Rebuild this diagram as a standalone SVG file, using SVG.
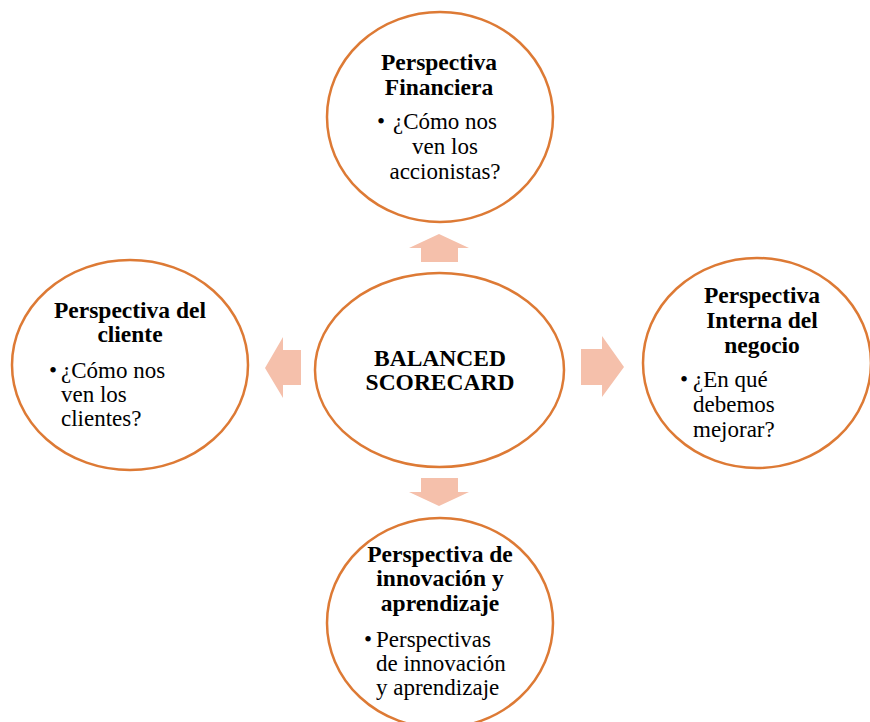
<svg xmlns="http://www.w3.org/2000/svg" width="870" height="722" viewBox="0 0 870 722">
<style>
.c{fill:#fff;stroke:#DD7A35;stroke-width:2.5}
.a{fill:#F5C0AB}
.t{font-family:"Liberation Serif","Times New Roman",serif;font-size:23px;fill:#000}
.b{font-weight:bold;font-size:23.5px}
.m{text-anchor:middle}
</style>
<rect width="870" height="722" fill="#fff"/>
<g id="connectors">
<polygon class="a" points="421,262 421,248 409,248 439,234 469,248 458,248 458,262"/>
<polygon class="a" points="301,350 283,350 283,337 265,368 283,398 283,385 301,385"/>
<polygon class="a" points="581,349 602,349 602,336 624,367 602,397 602,385 581,385"/>
<polygon class="a" points="421,478 458,478 458,492 469,492 439,506 409,492 421,492"/>
</g>
<g id="center">
<ellipse class="c" cx="439.5" cy="370" rx="124.5" ry="97"/>
<text class="t b m" x="440" y="366">BALANCED</text>
<text class="t b m" x="440" y="390">SCORECARD</text>
</g>
<g id="financiera">
<ellipse class="c" cx="440" cy="117" rx="113" ry="105"/>
<text class="t b m" x="439" y="70">Perspectiva</text>
<text class="t b m" x="439" y="95">Financiera</text>
<text class="t" x="377" y="129">•</text>
<text class="t m" x="445" y="129">¿Cómo nos</text>
<text class="t m" x="445" y="154">ven los</text>
<text class="t m" x="445" y="179">accionistas?</text>
</g>
<g id="cliente">
<ellipse class="c" cx="130" cy="365" rx="118" ry="105"/>
<text class="t b m" x="130" y="318">Perspectiva del</text>
<text class="t b m" x="130" y="342">cliente</text>
<text class="t" x="49" y="378">•</text>
<text class="t" x="61" y="378">¿Cómo nos</text>
<text class="t" x="61" y="402">ven los</text>
<text class="t" x="61" y="426">clientes?</text>
</g>
<g id="interna">
<ellipse class="c" cx="757" cy="363" rx="114" ry="105"/>
<text class="t b m" x="762" y="303">Perspectiva</text>
<text class="t b m" x="762" y="328">Interna del</text>
<text class="t b m" x="762" y="353">negocio</text>
<text class="t" x="680" y="387">•</text>
<text class="t" x="693" y="387">¿En qué</text>
<text class="t" x="693" y="412">debemos</text>
<text class="t" x="693" y="437">mejorar?</text>
</g>
<g id="innovacion">
<ellipse class="c" cx="440" cy="623" rx="113" ry="105"/>
<text class="t b m" x="440" y="562">Perspectiva de</text>
<text class="t b m" x="440" y="586">innovación y</text>
<text class="t b m" x="440" y="611">aprendizaje</text>
<text class="t" x="364" y="647">•</text>
<text class="t" x="376" y="647">Perspectivas</text>
<text class="t" x="376" y="671">de innovación</text>
<text class="t" x="376" y="695">y aprendizaje</text>
</g>
</svg>
